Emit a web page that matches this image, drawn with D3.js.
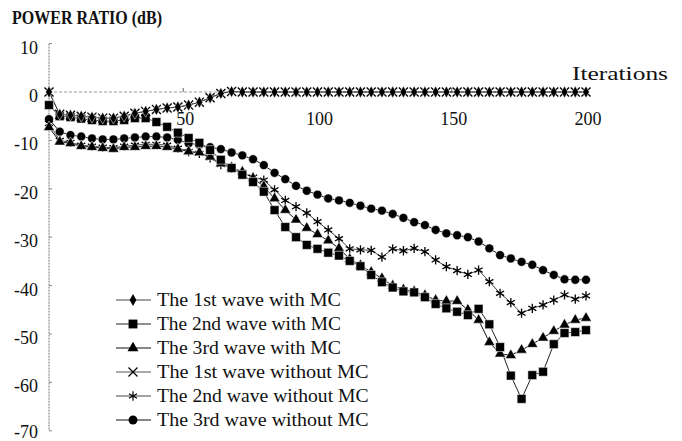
<!DOCTYPE html>
<html>
<head>
<meta charset="utf-8">
<script src="https://cdn.jsdelivr.net/npm/d3@7/dist/d3.min.js"></script>
<style>
  html, body { margin: 0; padding: 0; background: #fff; }
  svg { display: block; }
  text { font-family: "Liberation Serif", "DejaVu Serif", serif; fill: #111; }
</style>
</head>
<body>
<svg id="chart" width="682" height="441"></svg>
<script>
// ---- data ----
const iterations = d3.range(0, 201, 4); // 0,4,...,200 (51 points)

const wave1WithMC = [0,-4.6,-4.8,-5.0,-5.2,-5.4,-5.4,-5.0,-4.4,-4.0,-3.6,-3.3,-3.1,-2.7,-2.1,-1.2,-0.3,0.1,
  0,0,0,0,0,0,0,0,0,0,0,0,0,0,0,0,0,0,0,0,0,0,0,0,0,0,0,0,0,0,0,0,0];
const wave2WithMC = [-2.7,-5.0,-5.2,-5.5,-5.8,-6.0,-6.0,-5.8,-5.4,-5.4,-6.2,-7.2,-8.4,-9.5,-10.5,-12.0,-14.0,-15.7,
  -17.1,-18.6,-20.6,-24.4,-27.9,-30.0,-31.6,-32.4,-33.2,-33.8,-34.9,-36.0,-37.8,-39.3,-40.4,-41.2,-41.4,-42.4,
  -43.8,-44.7,-45.4,-46.1,-44.8,-48.0,-52.7,-58.6,-63.4,-58.5,-57.8,-52.1,-49.8,-49.6,-49.2];
const wave3WithMC = [-7.3,-10.3,-10.6,-11.2,-11.4,-11.6,-11.8,-11.4,-11.4,-11.2,-11.2,-11.4,-11.8,-12.3,-12.5,-13.4,-14.8,-15.6,
  -16.5,-17.8,-19.5,-22.0,-24.4,-26.4,-28.1,-29.4,-30.7,-32.3,-34.5,-35.8,-37.2,-38.5,-40.0,-40.8,-41.2,-42.0,
  -43.0,-43.2,-43.2,-45.0,-47.1,-51.7,-54.1,-54.4,-53.3,-52.1,-50.8,-49.4,-48.1,-47.1,-46.7];
const wave1WithoutMC = [0,-4.6,-4.8,-5.0,-5.2,-5.4,-5.4,-5.0,-4.4,-4.0,-3.6,-3.3,-3.1,-2.7,-2.1,-1.2,-0.3,0.1,
  0,0,0,0,0,0,0,0,0,0,0,0,0,0,0,0,0,0,0,0,0,0,0,0,0,0,0,0,0,0,0,0,0];
const wave2WithoutMC = [-6.5,-10.0,-10.4,-11.0,-11.2,-11.4,-11.5,-11.2,-11.0,-10.8,-10.8,-11.0,-11.6,-12.3,-12.7,-13.6,-15.0,-15.8,
  -16.6,-17.6,-18.2,-20.2,-22.4,-23.7,-25.0,-26.8,-28.5,-30.3,-32.4,-32.6,-32.7,-34.1,-32.4,-32.8,-32.3,-33.0,
  -34.7,-36.1,-36.9,-37.7,-36.8,-39.2,-41.6,-43.5,-45.7,-44.7,-44.0,-43.0,-41.9,-42.8,-42.1];
const wave3WithoutMC = [-5.6,-8.2,-8.9,-9.2,-9.6,-9.8,-9.8,-9.6,-9.4,-9.2,-9.2,-9.4,-9.9,-10.6,-10.9,-11.4,-11.8,-12.5,
  -13.1,-13.9,-15.1,-16.7,-18.0,-19.4,-20.4,-21.2,-22.0,-22.4,-22.9,-23.5,-24.1,-24.5,-25.2,-26.0,-26.9,-27.5,
  -28.5,-29.2,-29.6,-30.0,-30.9,-32.3,-33.7,-34.4,-35.1,-35.7,-36.8,-37.8,-38.7,-38.8,-38.8];

const seriesNames = ["The 1st wave with MC","The 2nd wave with MC","The 3rd wave with MC",
                     "The 1st wave without MC","The 2nd wave without MC","The 3rd wave without MC"];
const yTickValues = [10,0,-10,-20,-30,-40,-50,-60,-70];
const xTickValues = [50,100,150,200];
const yTitle = "POWER RATIO (dB)";
const xTitle = "Iterations";

// ---- drawing ----
const svg = d3.select("#chart");
const x = d3.scaleLinear().domain([0,200]).range([49,586]);
const y = d3.scaleLinear().domain([10,-70]).range([43.6,430.8]);

const series = [
  {name: seriesNames[0], values: wave1WithMC,    sym: d3.symbolDiamond,  size: 40, filled: true,  lineColor: "#444"},
  {name: seriesNames[1], values: wave2WithMC,    sym: d3.symbolSquare,   size: 78, filled: true,  lineColor: "#222"},
  {name: seriesNames[2], values: wave3WithMC,    sym: d3.symbolTriangle, size: 52, filled: true,  lineColor: "#111"},
  {name: seriesNames[3], values: wave1WithoutMC, sym: d3.symbolTimes,    size: 55, filled: false, lineColor: "#555"},
  {name: seriesNames[4], values: wave2WithoutMC, sym: d3.symbolAsterisk, size: 60, filled: false, lineColor: "#444"},
  {name: seriesNames[5], values: wave3WithoutMC, sym: d3.symbolCircle,   size: 62, filled: true,  lineColor: "#111"}
];

// axes (faint, dotted as in the scan)
svg.append("line").attr("x1", x(0)).attr("x2", x(0)).attr("y1", y(10)).attr("y2", y(-70))
  .attr("stroke", "#777").attr("stroke-width", 1).attr("stroke-dasharray", "2,1");
svg.append("line").attr("x1", x(0)).attr("x2", x(200)).attr("y1", y(0)).attr("y2", y(0))
  .attr("stroke", "#999").attr("stroke-width", 1).attr("stroke-dasharray", "3,2");
svg.selectAll(".ytick").data(yTickValues).enter().append("line")
  .attr("x1", x(0)).attr("x2", x(0)+3).attr("y1", d => y(d)).attr("y2", d => y(d))
  .attr("stroke", "#888").attr("stroke-width", 1);
svg.selectAll(".xtick").data(xTickValues).enter().append("line")
  .attr("x1", d => x(d)).attr("x2", d => x(d)).attr("y1", y(0)-4).attr("y2", y(0))
  .attr("stroke", "#666").attr("stroke-width", 1);

// y tick labels
svg.selectAll(".ylab").data(yTickValues).enter().append("text")
  .attr("x", 38).attr("y", d => Math.min(y(d) + 10, 438))
  .attr("text-anchor", "end").attr("font-size", 18)
  .text(d => d === 0 ? "0" : (d < 0 ? "-" + Math.abs(d) : String(d)));

// x tick labels
svg.selectAll(".xlab").data(xTickValues).enter().append("text")
  .attr("x", d => x(d) + 2).attr("y", y(0) + 33)
  .attr("text-anchor", "middle").attr("font-size", 18)
  .text(d => d);

// titles
svg.append("text").attr("x", 12).attr("y", 24).attr("font-size", 18).attr("font-weight", "bold")
  .attr("textLength", 150).attr("lengthAdjust", "spacingAndGlyphs").text(yTitle);
svg.append("text").attr("x", 572).attr("y", 80).attr("font-size", 18)
  .attr("textLength", 96).attr("lengthAdjust", "spacingAndGlyphs").text(xTitle);

// series lines and markers
const line = d3.line().x((d,i) => x(iterations[i])).y(d => y(d));
const drawOrder = [5,4,2,1,3,0];
drawOrder.forEach(k => {
  const s = series[k];
  svg.append("path").datum(s.values).attr("d", line)
    .attr("fill", "none").attr("stroke", s.lineColor).attr("stroke-width", 1);
});
drawOrder.forEach(k => {
  const s = series[k];
  const sym = d3.symbol().type(s.sym).size(s.size);
  svg.append("g").selectAll("path").data(s.values).enter().append("path")
    .attr("transform", (d,i) => `translate(${x(iterations[i])},${y(d)})`)
    .attr("d", sym)
    .attr("fill", s.filled ? "#000" : "none")
    .attr("stroke", s.filled ? "#fff" : "#000")
    .attr("stroke-width", s.filled ? 0.5 : 1.3);
});

// legend
const legY0 = 300, legStep = 24;
const leg = svg.append("g");
series.forEach((s, i) => {
  const cy = legY0 + i * legStep;
  leg.append("line").attr("x1", 116).attr("x2", 151).attr("y1", cy).attr("y2", cy)
    .attr("stroke", s.lineColor).attr("stroke-width", 1);
  leg.append("path").attr("transform", `translate(133,${cy})`)
    .attr("d", d3.symbol().type(s.sym).size(s.size)())
    .attr("fill", s.filled ? "#000" : "none")
    .attr("stroke", s.filled ? "none" : "#000").attr("stroke-width", 1.2);
  const w = s.name.length * 9.2;
  leg.append("text").attr("x", 157).attr("y", cy + 6).attr("font-size", 18)
    .attr("textLength", w).attr("lengthAdjust", "spacingAndGlyphs").text(s.name);
});
</script>
</body>
</html>
